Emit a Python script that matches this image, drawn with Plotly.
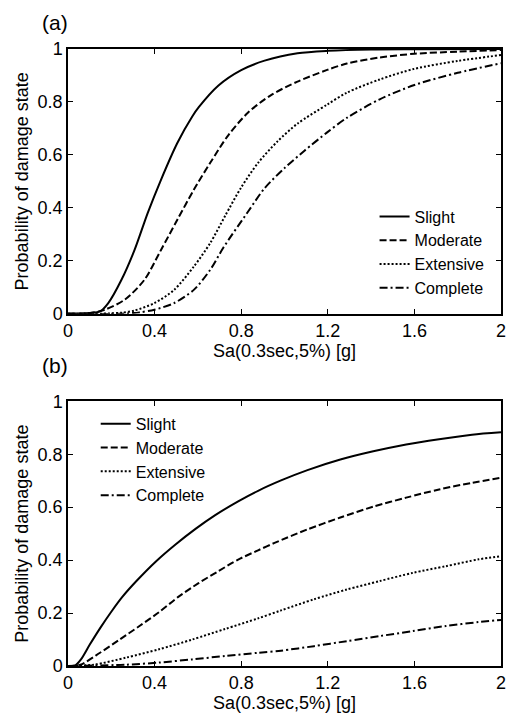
import plotly.graph_objects as go
from plotly.subplots import make_subplots

# ---------------- data ----------------
series_names = ["Slight", "Moderate", "Extensive", "Complete"]

# Panel (a)
a_slight_x = [0.0, 0.1, 0.15, 0.186, 0.247, 0.307, 0.368, 0.429, 0.505, 0.574, 0.604, 0.695, 0.80, 0.908, 1.06, 1.2, 1.4, 1.6, 2.0]
a_slight_y = [0.0, 0.003, 0.01, 0.04, 0.128, 0.24, 0.38, 0.505, 0.645, 0.745, 0.78, 0.862, 0.92, 0.956, 0.984, 0.993, 0.998, 0.999, 1.0]

a_moderate_x = [0.0, 0.1, 0.17, 0.262, 0.353, 0.429, 0.505, 0.581, 0.657, 0.741, 0.832, 0.938, 1.06, 1.197, 1.288, 1.44, 1.6, 1.8, 2.0]
a_moderate_y = [0.0, 0.002, 0.015, 0.053, 0.128, 0.24, 0.355, 0.468, 0.57, 0.675, 0.76, 0.826, 0.877, 0.921, 0.945, 0.968, 0.982, 0.99, 0.996]

a_extensive_x = [0.0, 0.15, 0.25, 0.307, 0.399, 0.49, 0.581, 0.657, 0.726, 0.80, 0.878, 0.969, 1.06, 1.197, 1.288, 1.44, 1.6, 1.8, 2.0]
a_extensive_y = [0.0, 0.0, 0.004, 0.012, 0.04, 0.09, 0.178, 0.267, 0.37, 0.477, 0.57, 0.652, 0.718, 0.79, 0.835, 0.885, 0.925, 0.955, 0.977]

a_complete_x = [0.0, 0.25, 0.33, 0.399, 0.49, 0.581, 0.657, 0.718, 0.832, 0.908, 1.0, 1.091, 1.197, 1.288, 1.44, 1.6, 1.8, 2.0]
a_complete_y = [0.0, 0.0, 0.005, 0.015, 0.04, 0.09, 0.166, 0.25, 0.386, 0.474, 0.55, 0.615, 0.685, 0.74, 0.81, 0.864, 0.91, 0.946]

# Panel (b)
b_slight_x = [0.0, 0.03, 0.06, 0.10, 0.15, 0.20, 0.25, 0.315, 0.406, 0.498, 0.589, 0.68, 0.786, 0.878, 0.984, 1.106, 1.258, 1.41, 1.562, 1.714, 1.866, 2.0]
b_slight_y = [0.0, 0.0, 0.025, 0.08, 0.145, 0.205, 0.26, 0.32, 0.395, 0.46, 0.518, 0.57, 0.622, 0.662, 0.701, 0.74, 0.78, 0.811, 0.837, 0.857, 0.874, 0.883]

b_moderate_x = [0.0, 0.057, 0.148, 0.239, 0.33, 0.42, 0.511, 0.603, 0.694, 0.786, 0.878, 0.954, 1.106, 1.258, 1.41, 1.562, 1.714, 1.866, 2.0]
b_moderate_y = [0.0, 0.005, 0.05, 0.1, 0.151, 0.203, 0.262, 0.313, 0.358, 0.402, 0.437, 0.465, 0.516, 0.561, 0.602, 0.636, 0.667, 0.692, 0.711]

b_extensive_x = [0.0, 0.12, 0.27, 0.42, 0.574, 0.726, 0.878, 0.984, 1.136, 1.288, 1.44, 1.593, 1.745, 1.897, 2.0]
b_extensive_y = [0.0, 0.005, 0.032, 0.063, 0.1, 0.14, 0.18, 0.21, 0.252, 0.289, 0.321, 0.352, 0.377, 0.403, 0.415]

b_complete_x = [0.0, 0.27, 0.42, 0.574, 0.726, 0.878, 0.984, 1.136, 1.288, 1.44, 1.593, 1.745, 1.897, 2.0]
b_complete_y = [0.0, 0.005, 0.013, 0.025, 0.038, 0.05, 0.058, 0.075, 0.094, 0.113, 0.132, 0.151, 0.166, 0.174]

x_ticks = [0, 0.4, 0.8, 1.2, 1.6, 2]
x_tick_labels = ["0", "0.4", "0.8", "1.2", "1.6", "2"]
y_ticks = [0, 0.2, 0.4, 0.6, 0.8, 1]
y_tick_labels = ["0", "0.2", "0.4", "0.6", "0.8", "1"]

x_title = "Sa(0.3sec,5%) [g]"
y_title = "Probability of damage state"
panel_labels = ["(a)", "(b)"]

# ---------------- figure ----------------
FONT = "Liberation Sans, Arial, Helvetica, sans-serif"
dashes = ["solid", "7px,3px", "2px,2px", "8px,3px,2px,3px"]

fig = make_subplots(rows=2, cols=1, vertical_spacing=0.142)

panel_a = [(a_slight_x, a_slight_y), (a_moderate_x, a_moderate_y),
           (a_extensive_x, a_extensive_y), (a_complete_x, a_complete_y)]
panel_b = [(b_slight_x, b_slight_y), (b_moderate_x, b_moderate_y),
           (b_extensive_x, b_extensive_y), (b_complete_x, b_complete_y)]

for i, (xs, ys) in enumerate(panel_a):
    fig.add_trace(go.Scatter(x=xs, y=ys, mode="lines", name=series_names[i],
                             line=dict(color="black", width=2, dash=dashes[i], shape="spline", smoothing=0.8),
                             legend="legend"), row=1, col=1)
for i, (xs, ys) in enumerate(panel_b):
    fig.add_trace(go.Scatter(x=xs, y=ys, mode="lines", name=series_names[i],
                             line=dict(color="black", width=2, dash=dashes[i], shape="spline", smoothing=0.8),
                             legend="legend2"), row=2, col=1)

axis_common = dict(showline=True, linecolor="black", linewidth=1.5, mirror="ticks",
                   ticks="inside", ticklen=5, tickwidth=1, tickcolor="black",
                   showgrid=False, zeroline=False,
                   tickfont=dict(family=FONT, size=18, color="black"))

for r in (1, 2):
    fig.update_xaxes(range=[0, 2], tickvals=x_ticks, ticktext=x_tick_labels,
                     title=dict(text=x_title, font=dict(family=FONT, size=18, color="black"), standoff=0),
                     row=r, col=1, **axis_common)
    fig.update_yaxes(range=[0, 1], tickvals=y_ticks, ticktext=y_tick_labels,
                     title=dict(text=y_title, font=dict(family=FONT, size=18, color="black"), standoff=4),
                     row=r, col=1, **axis_common)

legend_common = dict(font=dict(family=FONT, size=16, color="black"), bgcolor="rgba(0,0,0,0)",
                     borderwidth=0, tracegroupgap=0, itemwidth=30,
                     xanchor="left", yanchor="top")

fig.update_layout(
    width=511, height=717,
    margin=dict(l=68, r=5, t=49, b=51),
    plot_bgcolor="white", paper_bgcolor="white",
    font=dict(family=FONT, color="black"),
    showlegend=True,
    legend=dict(x=0.708, y=0.756, **legend_common),
    legend2=dict(x=0.064, y=0.42, **legend_common),
)

# Panel labels
fig.add_annotation(text=panel_labels[0], xref="paper", yref="paper", x=-0.03, y=1.0,
                   yshift=27, xanchor="center", yanchor="middle", showarrow=False,
                   font=dict(family=FONT, size=21, color="black"))
fig.add_annotation(text=panel_labels[1], xref="paper", yref="paper", x=-0.03, y=0.429,
                   yshift=36, xanchor="center", yanchor="middle", showarrow=False,
                   font=dict(family=FONT, size=21, color="black"))

fig.write_html("out.html")
